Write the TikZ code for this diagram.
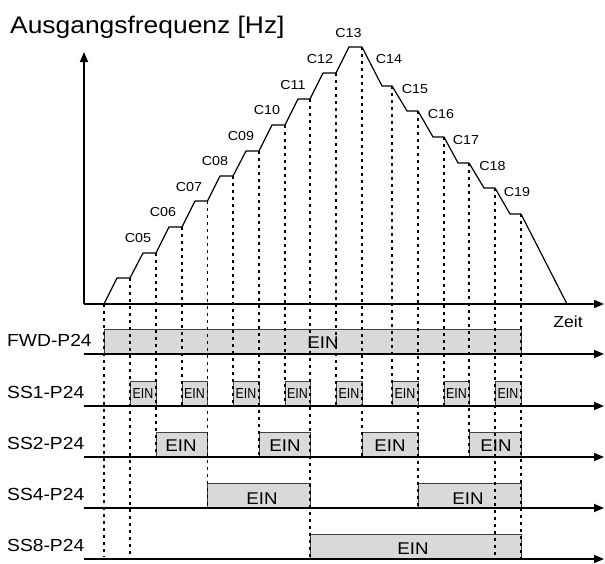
\documentclass[tikz,border=0pt]{standalone}
\usepackage{fontspec}
\setmainfont[FakeStretch=1.1]{Liberation Sans}
\usetikzlibrary{arrows.meta}

\begin{document}
\begin{tikzpicture}[
    x=1pt, y=-1pt,
    axisline/.style={line width=1.6pt, -{Triangle[length=10pt,width=8pt]}},
    ramp/.style={line width=1.2pt, line join=round},
    guide/.style={line width=1.3pt, dash pattern=on 3pt off 4pt},
    einbox/.style={draw=black!75, fill=black!15, line width=0.8pt},
    title/.style={font=\fontsize{24}{24}\selectfont, inner sep=0pt, anchor=base west},
    signame/.style={font=\fontsize{17.5}{17.5}\selectfont, inner sep=0pt, anchor=base west},
    cval/.style={font=\fontsize{13}{13}\selectfont, inner sep=0pt},
    einbig/.style={font=\fontsize{17}{17}\selectfont, inner sep=0pt},
    einsmall/.style={font=\fontsize{14.5}{14.5}\selectfont, inner sep=0pt}
]
\useasboundingbox (0,0) rectangle (605,563);

% Frequency axes
\coordinate (o) at (84,304);
\coordinate (ytop) at (84,52);
\coordinate (xend) at (604,304);
\draw [axisline] (o) -- (ytop);
\draw [axisline] (o) -- (xend);
\node [title] (ylabel) at (10,33) {Ausgangsfrequenz [Hz]};
\node [font=\fontsize{16}{16}\selectfont, inner sep=0pt] (xlabel) at (568,322) {Zeit};

% Output frequency steps
\draw [ramp] (104,304) -- (117,278) -- (130,278) -- (143,253) -- (156,253) -- (169,227) -- (182,227)
    -- (195,201) -- (207.5,201) -- (220,176) -- (233,176) -- (246,151) -- (259,151) -- (272,125)
    -- (285,125) -- (298,99) -- (310,99) -- (323,73) -- (336,73) -- (349,47) -- (362,47)
    -- (382,86) -- (392,86) -- (407,111) -- (418,111) -- (433,137) -- (444,137) -- (458,163)
    -- (469,163) -- (484,188) -- (495,188) -- (510,214) -- (521,214) -- (567,304);
\foreach \n/\x/\y in {05/138/238, 06/163/212.5, 07/189/187, 08/215/161.5, 09/241/136, 10/267/110.5,
    11/293/85, 12/320/59, 13/348.5/33, 14/389/59, 15/415/89, 16/441/114, 17/466/140, 18/492.5/166, 19/517/192}
    \node [cval] (c\n) at (\x,\y) {C\n};

% Input signals
\draw [einbox] (104,329) rectangle (521,354);
\foreach \a/\b in {130/156, 182/207.5, 233/259, 285/310, 336/362, 392/418, 444/469, 495/521}
    \draw [einbox] (\a,381) rectangle (\b,406);
\foreach \a/\b in {156/207.5, 259/310, 362/418, 469/521}
    \draw [einbox] (\a,432) rectangle (\b,457);
\foreach \a/\b in {207.5/310, 418/521}
    \draw [einbox] (\a,483) rectangle (\b,508);
\draw [einbox] (310,534) rectangle (521,559);

\foreach \y/\n/\t in {354/fwd/FWD-P24, 406/ssone/SS1-P24, 457/sstwo/SS2-P24, 508/ssfour/SS4-P24, 559/sseight/SS8-P24} {
    \coordinate (\n l) at (84,\y);
    \coordinate (\n r) at (604,\y);
    \draw [axisline] (\n l) -- (\n r);
    \node [signame] (\n) at (7,\y-7.5) {\t};
}

\node [einbig] (einfwd) at (323,342.5) {EIN};
\foreach \x [count=\i] in {143, 194.5, 246, 297.5, 349, 405, 456.5, 508}
    \node [einsmall] (einone\i) at (\x,393.5) {\scalebox{0.78}[1]{EIN}};
\foreach \x [count=\i] in {181, 285, 390, 496}
    \node [einbig] (eintwo\i) at (\x,446) {EIN};
\foreach \x [count=\i] in {262, 468}
    \node [einbig] (einfour\i) at (\x,499) {EIN};
\node [einbig] (eineight) at (413,548.5) {EIN};

% Switching instants
\foreach \x/\a/\b in {104/304/557, 130/278/557, 156/253/457, 182/227/406, 207.5/201/508, 233/176/406,
    259/151/457, 285/125/406, 310/99/559, 336/73/406, 362/47/457, 392/86/406, 418/111/508,
    444/137/406, 469/163/457, 495/188/559, 521/214/559}
    \draw [guide] (\x,\a) -- (\x,\b);

\end{tikzpicture}
\end{document}
